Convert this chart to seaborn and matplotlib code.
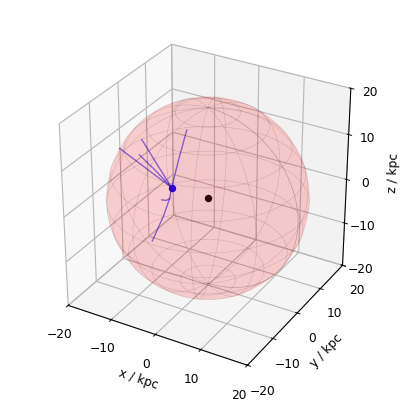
import numpy as np
import matplotlib
matplotlib.use("Agg")
import matplotlib.pyplot as plt
import seaborn as sns

sns.reset_orig()
plt.rcParams["font.size"] = 10.8
plt.rcParams["axes.linewidth"] = 0.9

# galactic centre, sun and sphere radius (kpc)
CENTRE = [0.0, 0.0, 0.0]
SUN = [-8.2, 0.0, 0.0]
RADIUS = 19.6

# streams seen from the sun, in kpc
track_a_x = [-8.2, -8.1, -8.0]
track_a_y = [0.0, 2.6, 5.6]
track_a_z = [0.0, 5.0, 10.2]

track_b_x = [-8.2, -10.0, -12.0]
track_b_y = [0.0, -2.2, -4.5]
track_b_z = [0.0, 5.6, 11.7]

track_c_x = [-8.2, -12.0, -16.0]
track_c_y = [0.0, -3.0, -6.2]
track_c_z = [0.0, 4.6, 9.5]

track_d_x = [-8.2, -10.6, -13.0]
track_d_y = [0.0, -1.9, -3.9]
track_d_z = [0.0, 4.0, 7.8]

track_e_x = [-8.2, -8.5, -9.3, -11.0]
track_e_y = [0.0, -0.3, -1.3, -3.0]
track_e_z = [0.0, -2.4, -6.0, -11.5]

track_f_x = [-8.5, -9.2, -10.2]
track_f_y = [-0.3, -0.4, -0.5]
track_f_z = [-2.4, -3.0, -3.1]

tracks = [
    (track_a_x, track_a_y, track_a_z),
    (track_b_x, track_b_y, track_b_z),
    (track_c_x, track_c_y, track_c_z),
    (track_d_x, track_d_y, track_d_z),
    (track_e_x, track_e_y, track_e_z),
    (track_f_x, track_f_y, track_f_z),
]

ticks = [-20, -10, 0, 10, 20]

fig = plt.figure(figsize=(5, 5), dpi=81.4)
ax = fig.add_axes([0.113, 0.118, 0.775, 0.77], projection="3d")
ax.set_box_aspect((1, 1, 1), zoom=1.11)

u = np.linspace(0, 2 * np.pi, 100)
v = np.linspace(0, np.pi, 100)
xs = RADIUS * np.outer(np.cos(u), np.sin(v))
ys = RADIUS * np.outer(np.sin(u), np.sin(v))
zs = RADIUS * np.outer(np.ones_like(u), np.cos(v))

ax.plot_surface(xs, ys, zs, color="r", alpha=0.09, rstride=2, cstride=2, shade=False)
ax.plot_wireframe(xs, ys, zs, color="k", alpha=0.13, linewidth=0.6, rstride=10, cstride=10)

for tx, ty, tz in tracks:
    ax.plot(tx, ty, tz, color="b", alpha=0.55, linewidth=1.2)

ax.scatter(*SUN, color="b", s=30, depthshade=False)
ax.scatter(*CENTRE, color="k", s=30, depthshade=False)

ax.set_xlim(-20, 20)
ax.set_ylim(-20, 20)
ax.set_zlim(-20, 20)
ax.set_xticks(ticks)
ax.set_yticks(ticks)
ax.set_zticks(ticks)
ax.tick_params(axis="x", pad=4)
ax.tick_params(axis="y", pad=4)
ax.tick_params(axis="z", pad=2)
ax.set_xlabel("x / kpc", labelpad=2)
ax.set_ylabel("y / kpc", labelpad=3)
ax.set_zlabel("z / kpc", labelpad=4)

for axis in (ax.xaxis, ax.yaxis, ax.zaxis):
    axis._axinfo["grid"]["linewidth"] = 1.0
    axis._axinfo["grid"]["color"] = "#b8b8b8"

fig.savefig("out.png", dpi=81.4)
